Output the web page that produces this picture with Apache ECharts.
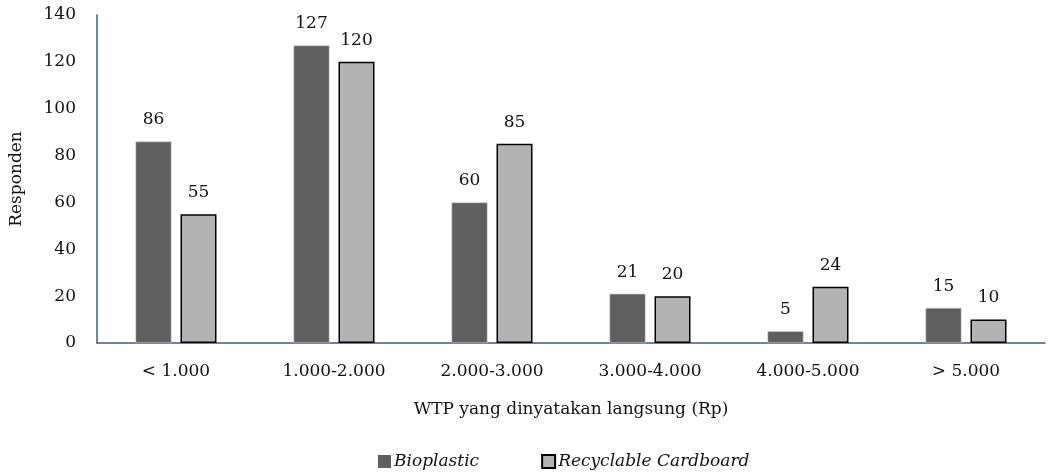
<!DOCTYPE html>
<html>
<head>
<meta charset="utf-8">
<script src="https://cdn.jsdelivr.net/npm/echarts@6/dist/echarts.min.js"></script>
<style>
  html, body { margin: 0; padding: 0; background: #fff; }
  #chart { width: 1051px; height: 475px; }
</style>
</head>
<body>
<div id="chart"></div>
<script>
// WTP brackets (Rp) and respondent counts per packaging option
const categories = ['< 1.000', '1.000-2.000', '2.000-3.000', '3.000-4.000', '4.000-5.000', '> 5.000'];
const bioplastic = [86, 127, 60, 21, 5, 15];
const cardboard = [55, 120, 85, 20, 24, 10];
const yTicks = [0, 20, 40, 60, 80, 100, 120, 140];

const FONT = 'DejaVu Serif';
const FS = 17;
const chart = echarts.init(document.getElementById('chart'), null, { renderer: 'canvas' });

const labelStyle = {
  show: true,
  position: 'top',
  distance: 13,
  fontFamily: FONT,
  fontSize: FS,
  color: '#111'
};

chart.setOption({
  animation: false,
  textStyle: { fontFamily: FONT },
  grid: { left: 96, right: 6, top: 15, bottom: 132, containLabel: false },
  legend: {
    bottom: 0,
    left: 373,
    icon: 'rect',
    itemWidth: 13,
    itemHeight: 13,
    itemGap: 62,
    textStyle: { fontFamily: FONT, fontSize: FS, fontStyle: 'italic', color: '#111', padding: [0, 0, 0, -2] },
    data: [
      { name: 'Bioplastic', itemStyle: { borderWidth: 0 } },
      { name: 'Recyclable Cardboard' }
    ]
  },
  xAxis: {
    type: 'category',
    data: categories,
    name: 'WTP yang dinyatakan langsung (Rp)',
    nameLocation: 'middle',
    nameGap: 58,
    nameTextStyle: { fontFamily: FONT, fontSize: FS, color: '#111' },
    axisLine: { lineStyle: { color: '#3a5a8e', width: 1.5 } },
    axisTick: { show: false },
    axisLabel: { fontFamily: FONT, fontSize: FS, color: '#111', margin: 20 }
  },
  yAxis: {
    type: 'value',
    min: yTicks[0],
    max: yTicks[yTicks.length - 1],
    interval: 20,
    name: 'Responden',
    nameLocation: 'middle',
    nameGap: 72,
    nameTextStyle: { fontFamily: FONT, fontSize: FS, color: '#111' },
    axisLine: { show: true, lineStyle: { color: '#3a5a8e', width: 1.5 } },
    axisTick: { show: false },
    splitLine: { show: false },
    axisLabel: { fontFamily: FONT, fontSize: FS, color: '#111', margin: 21 }
  },
  series: [
    {
      name: 'Bioplastic',
      type: 'bar',
      data: bioplastic,
      barWidth: 36,
      barGap: '25%',
      itemStyle: { color: '#5f5f5f', borderColor: '#cfcfcf', borderWidth: 0.6 },
      label: labelStyle
    },
    {
      name: 'Recyclable Cardboard',
      type: 'bar',
      data: cardboard,
      barWidth: 36,
      barGap: '25%',
      itemStyle: { color: '#b3b3b3', borderColor: '#000', borderWidth: 1.5 },
      label: labelStyle
    }
  ]
});
</script>
</body>
</html>
